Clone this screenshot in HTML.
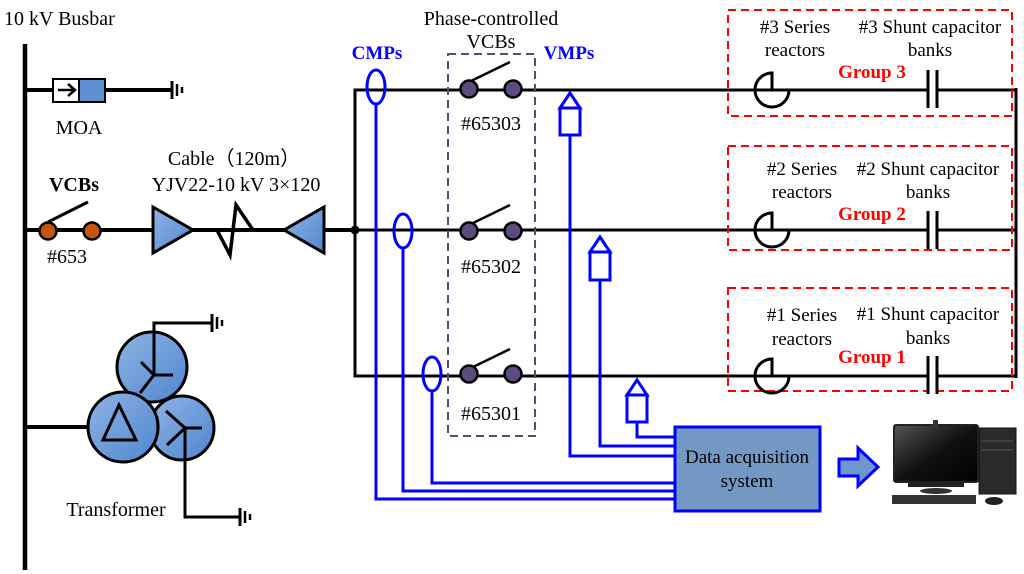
<!DOCTYPE html>
<html><head><meta charset="utf-8"><style>
html,body{margin:0;padding:0;background:#fff;}
svg{display:block;font-family:"Liberation Serif",serif;}
</style></head><body>
<svg width="1024" height="574" viewBox="0 0 1024 574" xmlns="http://www.w3.org/2000/svg">
<defs>
<linearGradient id="bl" x1="0" y1="0" x2="1" y2="1"><stop offset="0" stop-color="#8fb4e3"/><stop offset="1" stop-color="#4f86d0"/></linearGradient>
<linearGradient id="scr" x1="0" y1="0" x2="1" y2="1"><stop offset="0" stop-color="#555"/><stop offset="0.5" stop-color="#111"/><stop offset="1" stop-color="#000"/></linearGradient>
<g id="gnd"><line x1="0" y1="-9" x2="0" y2="9" stroke="#000" stroke-width="3"/><line x1="5" y1="-6" x2="5" y2="6" stroke="#000" stroke-width="2.5"/><line x1="10" y1="-3" x2="10" y2="3" stroke="#000" stroke-width="2.5"/></g>
</defs>
<text x="4" y="25" font-size="20">10 kV Busbar</text>
<line x1="25" y1="44" x2="25" y2="570" stroke="#000" stroke-width="4.5"/>
<!-- MOA -->
<line x1="25" y1="90" x2="172" y2="90" stroke="#000" stroke-width="4"/>
<rect x="53" y="79" width="26" height="23" fill="#fff" stroke="#000" stroke-width="2"/>
<rect x="79" y="79" width="26" height="23" fill="#5e8fd0" stroke="#000" stroke-width="2"/>
<path d="M58 90 H75 M68 84 L75 90 L68 96" fill="none" stroke="#000" stroke-width="2.5"/>
<use href="#gnd" x="172" y="90"/>
<text x="79" y="134" font-size="20" text-anchor="middle">MOA</text>
<!-- VCB 653 row -->
<line x1="25" y1="230" x2="355" y2="230" stroke="#000" stroke-width="4"/>
<line x1="48" y1="222" x2="88" y2="202" stroke="#000" stroke-width="3"/>
<circle cx="48" cy="231" r="8.5" fill="#c4570b" stroke="#000" stroke-width="2.5"/>
<circle cx="92" cy="231" r="8.5" fill="#c4570b" stroke="#000" stroke-width="2.5"/>
<text x="74" y="191" font-size="20" font-weight="bold" text-anchor="middle">VCBs</text>
<text x="67" y="263" font-size="20" text-anchor="middle">#653</text>
<text x="234" y="165" font-size="20" text-anchor="middle">Cable（120m）</text>
<text x="236" y="191" font-size="20" text-anchor="middle">YJV22-10 kV 3×120</text>
<polygon points="153,207 193,230 153,253" fill="url(#bl)" stroke="#000" stroke-width="3"/>
<polygon points="324,207 284,230 324,253" fill="url(#bl)" stroke="#000" stroke-width="3"/>
<polyline points="193,230 217,230 230,255 236,205 253,230 284,230" fill="none" stroke="#000" stroke-width="3.5"/>
<circle cx="355" cy="230" r="4.5" fill="#000"/>
<!-- transformer -->
<line x1="25" y1="427" x2="90" y2="427" stroke="#000" stroke-width="4"/>
<polyline points="154,350 154,323 212,323" fill="none" stroke="#000" stroke-width="3"/>
<use href="#gnd" x="212" y="323"/>
<polyline points="185,428 185,517 240,517" fill="none" stroke="#000" stroke-width="3"/>
<use href="#gnd" x="240" y="517"/>
<circle cx="152" cy="367" r="35" fill="url(#bl)" stroke="#000" stroke-width="3"/>
<path d="M154 323 V375 M141 362 L154 375 L173 375 M154 375 L140 393" fill="none" stroke="#000" stroke-width="3"/>
<circle cx="182" cy="428" r="32" fill="url(#bl)" stroke="#000" stroke-width="3"/>
<path d="M166 411 L185 428 L202 428 M185 428 L167 445 M185 428 V460" fill="none" stroke="#000" stroke-width="3"/>
<circle cx="123" cy="427" r="35" fill="url(#bl)" stroke="#000" stroke-width="3"/>
<polygon points="119,405 103,440 136,440" fill="none" stroke="#000" stroke-width="3"/>
<text x="116" y="516" font-size="20" text-anchor="middle">Transformer</text>
<!-- branches -->
<polyline points="1016,90 355,90 355,376 1016,376" fill="none" stroke="#000" stroke-width="3"/>
<line x1="355" y1="230" x2="1016" y2="230" stroke="#000" stroke-width="3"/>
<line x1="1016" y1="88" x2="1016" y2="378" stroke="#000" stroke-width="3"/>
<!-- phase VCBs -->
<text x="491" y="25" font-size="20" text-anchor="middle">Phase-controlled</text>
<text x="491" y="48" font-size="20" text-anchor="middle">VCBs</text>
<rect x="448" y="54" width="87" height="382" fill="none" stroke="#5a4a72" stroke-width="2" stroke-dasharray="8,5"/>
<g stroke="#000" stroke-width="2.5" fill="#5b4b80">
<line x1="469" y1="82" x2="510" y2="62"/><circle cx="469" cy="89" r="8.5"/><circle cx="513" cy="89" r="8.5"/>
<line x1="469" y1="225" x2="510" y2="205"/><circle cx="469" cy="231" r="8.5"/><circle cx="513" cy="231" r="8.5"/>
<line x1="469" y1="369" x2="510" y2="349"/><circle cx="469" cy="374" r="8.5"/><circle cx="513" cy="374" r="8.5"/>
</g>
<text x="491" y="130" font-size="20" text-anchor="middle">#65303</text>
<text x="491" y="273" font-size="20" text-anchor="middle">#65302</text>
<text x="491" y="420" font-size="20" text-anchor="middle">#65301</text>
<!-- CMPs / VMPs -->
<text x="377" y="59" font-size="19" font-weight="bold" fill="#0000ff" text-anchor="middle">CMPs</text>
<text x="569" y="59" font-size="19" font-weight="bold" fill="#0000ff" text-anchor="middle">VMPs</text>
<g fill="none" stroke="#0000ff" stroke-width="3">
<ellipse cx="376" cy="87" rx="9" ry="17"/>
<ellipse cx="403" cy="231" rx="9" ry="17"/>
<ellipse cx="432" cy="374" rx="9" ry="17"/>
<polyline points="376,104 376,499 675,499"/>
<polyline points="403,248 403,491 675,491"/>
<polyline points="432,391 432,483 675,483"/>
<polyline points="570,135 570,456 675,456"/>
<polyline points="600,280 600,446 675,446"/>
<polyline points="637,422 637,437 675,437"/>
<path d="M560 108 L570 93 L580 108 Z"/><rect x="560" y="108" width="20" height="27"/>
<path d="M590 252 L600 237 L610 252 Z"/><rect x="590" y="252" width="20" height="28"/>
<path d="M627 395 L637 380 L647 395 Z"/><rect x="627" y="395" width="20" height="27"/>
</g>
<rect x="675" y="427" width="145" height="84" fill="#7498c4" stroke="#0000ff" stroke-width="3"/>
<text x="747" y="463" font-size="19" text-anchor="middle">Data acquisition</text>
<text x="747" y="487" font-size="19" text-anchor="middle">system</text>
<polygon points="839,459 858,459 858,448 878,467 858,486 858,476 839,476" fill="#6f97cf" stroke="#0000ff" stroke-width="3"/>
<!-- computer -->
<rect x="894" y="425" width="84" height="57" rx="2" fill="url(#scr)" stroke="#222" stroke-width="2"/>
<rect x="933" y="420" width="5" height="6" fill="#333"/>
<rect x="908" y="482" width="56" height="5" fill="#222"/>
<ellipse cx="936" cy="491" rx="16" ry="3" fill="#333"/>
<rect x="979" y="428" width="37" height="66" fill="#2a2a2a" stroke="#111"/>
<line x1="982" y1="441" x2="1013" y2="441" stroke="#555"/>
<line x1="982" y1="450" x2="1013" y2="450" stroke="#555"/>
<rect x="892" y="495" width="84" height="9" fill="#333"/>
<ellipse cx="994" cy="501" rx="9" ry="4" fill="#222"/>
<!-- groups -->
<g fill="none" stroke="#ff0000" stroke-width="2" stroke-dasharray="8,5">
<rect x="728" y="10" width="284" height="106"/>
<rect x="728" y="146" width="284" height="104"/>
<rect x="728" y="288" width="284" height="103"/>
</g>
<g font-size="19" text-anchor="middle">
<text x="795" y="33">#3 Series</text><text x="795" y="56">reactors</text>
<text x="930" y="33">#3 Shunt capacitor</text><text x="930" y="56">banks</text>
<text x="802" y="175">#2 Series</text><text x="802" y="198">reactors</text>
<text x="928" y="175">#2 Shunt capacitor</text><text x="928" y="198">banks</text>
<text x="802" y="321">#1 Series</text><text x="802" y="345">reactors</text>
<text x="928" y="320">#1 Shunt capacitor</text><text x="928" y="344">banks</text>
</g>
<g font-size="19" font-weight="bold" fill="#ff0000" text-anchor="middle">
<text x="872" y="78">Group 3</text><text x="872" y="220">Group 2</text><text x="872" y="363">Group 1</text>
</g>
<g stroke="#000" stroke-width="3" fill="none">
<path d="M772 90 V73 A17 17 0 1 0 789 90"/>
<path d="M772 230 V213 A17 17 0 1 0 789 230"/>
<path d="M772 376 V359 A17 17 0 1 0 789 376"/>
<rect x="927" y="72" width="11" height="36" stroke="none" fill="#fff"/>
<line x1="928" y1="70" x2="928" y2="108"/><line x1="937" y1="70" x2="937" y2="108"/>
<rect x="927" y="212" width="11" height="36" stroke="none" fill="#fff"/>
<line x1="928" y1="211" x2="928" y2="249"/><line x1="937" y1="211" x2="937" y2="249"/>
<rect x="927" y="357" width="11" height="36" stroke="none" fill="#fff"/>
<line x1="928" y1="356" x2="928" y2="394"/><line x1="937" y1="356" x2="937" y2="394"/>
</g>
</svg>
</body></html>
